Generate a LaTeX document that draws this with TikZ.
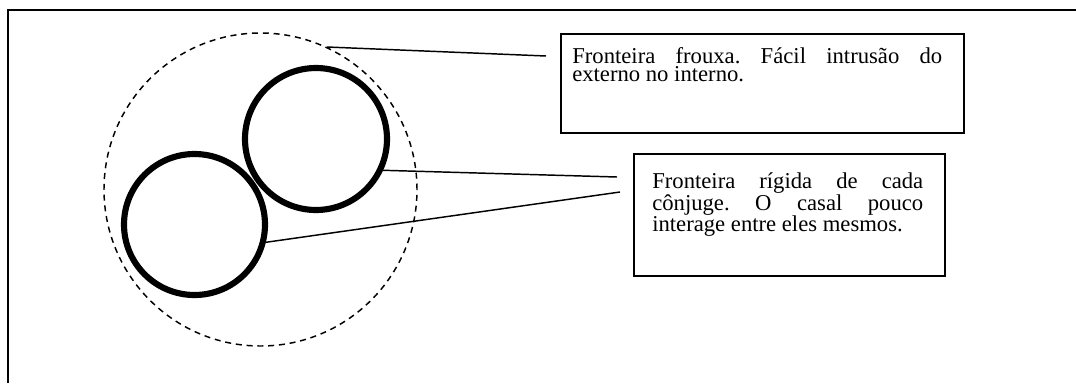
\documentclass[tikz,border=0pt]{standalone}
\usepackage{fontspec}
\setmainfont{Liberation Serif}
\begin{document}
\frenchspacing
\begin{tikzpicture}[x=0.75pt,y=-0.75pt,
  frame/.style={line width=1.2pt},
  loose/.style={circle,draw,dashed,dash pattern=on 4.5pt off 3.6pt,line width=1.1pt,inner sep=0pt},
  rigid/.style={circle,draw,line width=4.6pt,inner sep=0pt},
  leader/.style={line width=1.1pt},
  notebox/.style={draw,line width=1.2pt,inner sep=0pt,anchor=north west},
  notetext/.style={inner sep=0pt,anchor=north west,align=justify,
    font=\frenchspacing\fontsize{17pt}{14pt}\selectfont}]
  \useasboundingbox (0,0) rectangle (1076,383);
  % page frame: top and left edges
  \draw[frame] (1076,10) -- (8,10) -- (8,383);
  % couple system with its loose outer boundary
  \node[loose,minimum size=234.75pt] (outer) at (260.5,189.5) {};
  \node[rigid,minimum size=106.5pt] (spouseA) at (316,139) {};
  \node[rigid,minimum size=105.75pt] (spouseB) at (194.5,224.5) {};
  % note boxes
  \node[notebox,minimum width=302.25pt,minimum height=74.25pt] (looseBox) at (560,33) {};
  \node[notetext,text width=277.5pt] (looseText) at (572,47)
    {Fronteira frouxa. Fácil intrusão do\linebreak externo no interno.};
  \node[notebox,minimum width=233.25pt,minimum height=91.5pt] (rigidBox) at (633,153) {};
  \node[notetext,text width=203.25pt] (rigidText) at (652,172)
    {Fronteira rígida de cada\linebreak cônjuge. O casal pouco\linebreak interage entre eles mesmos.};
  % leader ends
  \coordinate (looseEnd) at (546,56);
  \coordinate (rigidEndA) at (617,177);
  \coordinate (rigidEndB) at (620,192);
  \draw[leader] (outer.65) -- (looseEnd);
  \draw[leader] (spouseA.-25.6) -- (rigidEndA);
  \draw[leader] (spouseB.-14.3) -- (rigidEndB);
\end{tikzpicture}
\end{document}
